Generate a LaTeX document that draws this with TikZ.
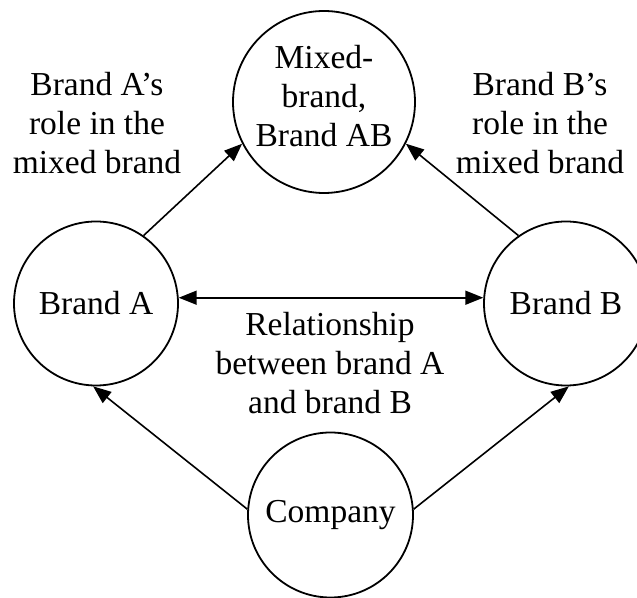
\documentclass[tikz,border=0pt]{standalone}
\usepackage{fontspec}
\setmainfont{Liberation Serif}
\usetikzlibrary{arrows.meta}
\tikzset{
  bubble/.style={circle, draw, line width=1.8pt, inner sep=0pt, align=center},
  lbl/.style={align=center, inner sep=0pt},
  conn/.style={line width=1.6pt, -{Triangle[length=18pt,width=14pt]}},
  bothconn/.style={line width=1.6pt, {Triangle[length=18pt,width=14pt]}-{Triangle[length=18pt,width=14pt]}}
}
\begin{document}
\begin{tikzpicture}[x=1pt,y=1pt,font=\fontsize{33.5}{39}\selectfont]
\useasboundingbox (0,0) rectangle (637,597);
\node[bubble, minimum size=182pt] (M) at (324,495) {Mixed-\\brand,\\Brand AB\rule[-13pt]{0pt}{0pt}};
\node[bubble, minimum size=164pt] (A) at (96,293.5) {Brand A};
\node[bubble, minimum size=164pt] (B) at (566,293.5) {Brand B};
\node[bubble, minimum size=165pt] (C) at (330.5,82) {Company};
\node[lbl] (la) at (97,474) {Brand A’s\\role in the\\mixed brand};
\node[lbl] (lb) at (540,474) {Brand B’s\\role in the\\mixed brand};
\node[lbl] (lr) at (330,234) {Relationship\\between brand A\\and brand B};
\draw[conn] (A.55) -- (M.207);
\draw[conn] (B.125) -- (M.333);
\draw[bothconn] (A.4) -- (B.176);
\draw[conn] (C.176) -- (A.268);
\draw[conn] (C.4) -- (B.272);
\end{tikzpicture}
\end{document}
